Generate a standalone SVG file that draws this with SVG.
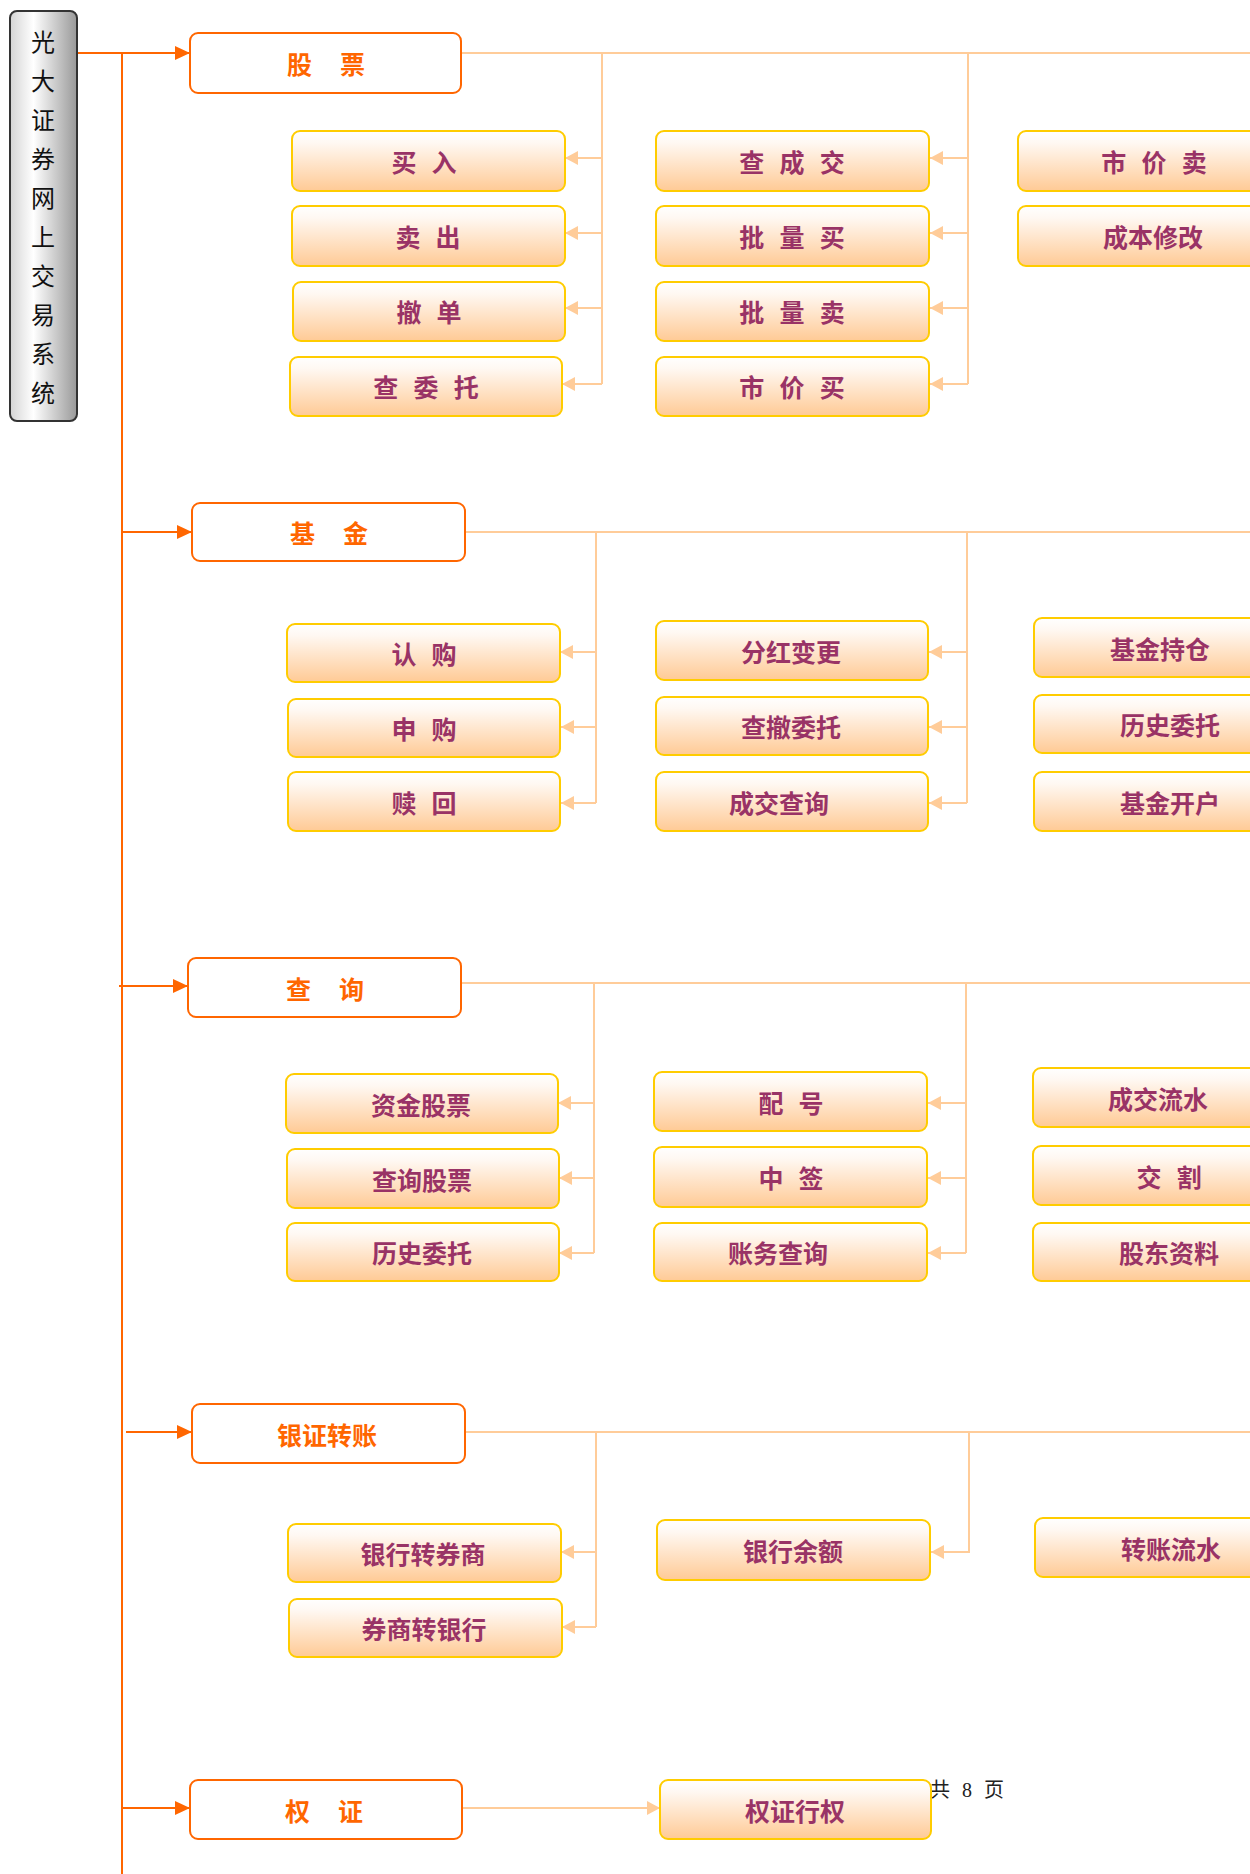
<svg xmlns="http://www.w3.org/2000/svg" width="1250" height="1874" viewBox="0 0 1250 1874">
<defs>
  <linearGradient id="gChild" x1="0" y1="0" x2="0" y2="1">
    <stop offset="0" stop-color="#FFFFFF"/>
    <stop offset="0.2" stop-color="#FFF8F2"/>
    <stop offset="1" stop-color="#FFCA95"/>
  </linearGradient>
  <linearGradient id="gTitle" x1="0" y1="0" x2="1" y2="0">
    <stop offset="0" stop-color="#D4D4D4"/>
    <stop offset="0.35" stop-color="#FFFFFF"/>
    <stop offset="1" stop-color="#999999"/>
  </linearGradient>
  <marker id="arrMain" markerUnits="userSpaceOnUse" viewBox="0 0 15 14" markerWidth="15" markerHeight="14" refX="15" refY="7" orient="auto">
    <path d="M0,0 L15,7 L0,14 z" fill="#FF6600"/>
  </marker>
  <marker id="arrSub" markerUnits="userSpaceOnUse" viewBox="0 0 13 14" markerWidth="13" markerHeight="14" refX="13" refY="7" orient="auto">
    <path d="M0,0 L13,7 L0,14 z" fill="#FFCC99"/>
  </marker>
</defs>
<style>
  .title { fill: url(#gTitle); stroke: #333333; stroke-width: 2; }
  .ttext { font-family: "Noto Sans CJK SC", "Liberation Sans", sans-serif; font-size: 24px; fill: #111111; text-anchor: middle; }
  .parent { fill: #FFFFFF; stroke: #FF6600; stroke-width: 2; }
  .ptext { font-family: "Noto Sans CJK SC", "Liberation Sans", sans-serif; font-size: 25px; font-weight: bold; fill: #FF6600; text-anchor: middle; }
  .child { fill: url(#gChild); stroke: #FFCC00; stroke-width: 2; }
  .ctext { font-family: "Noto Sans CJK SC", "Liberation Sans", sans-serif; font-size: 25px; font-weight: bold; fill: #993366; text-anchor: middle; }
  .sp2 { word-spacing: 22.5px; }
  .sp1 { word-spacing: 9.5px; }
  .main { fill: none; stroke: #FF6600; stroke-width: 2; }
  .sub { fill: none; stroke: #FFCC99; stroke-width: 2; }
  .footer { font-family: "Liberation Serif", "Noto Sans CJK SC", serif; font-size: 20px; fill: #222222; word-spacing: 7px; }
</style>
<rect width="1250" height="1874" fill="#FFFFFF"/>

<text class="footer" x="930" y="1797">共 8 页</text>

<g id="connectors">
  <path class="main" d="M122,53 V1874"/>
  <path class="main" d="M77,53 H190" marker-end="url(#arrMain)"/>
  <path class="main" d="M122,532 H192" marker-end="url(#arrMain)"/>
  <path class="main" d="M119,986 H188" marker-end="url(#arrMain)"/>
  <path class="main" d="M126,1432 H192" marker-end="url(#arrMain)"/>
  <path class="main" d="M122,1808 H190" marker-end="url(#arrMain)"/>

  <path class="sub" d="M461,53 H1250"/>
  <path class="sub" d="M602,53 V384"/>
  <path class="sub" d="M602,158 H565" marker-end="url(#arrSub)"/>
  <path class="sub" d="M602,233 H565" marker-end="url(#arrSub)"/>
  <path class="sub" d="M602,308 H565" marker-end="url(#arrSub)"/>
  <path class="sub" d="M602,384 H562" marker-end="url(#arrSub)"/>
  <path class="sub" d="M968,53 V384"/>
  <path class="sub" d="M968,158 H930" marker-end="url(#arrSub)"/>
  <path class="sub" d="M968,233 H930" marker-end="url(#arrSub)"/>
  <path class="sub" d="M968,308 H930" marker-end="url(#arrSub)"/>
  <path class="sub" d="M968,384 H930" marker-end="url(#arrSub)"/>

  <path class="sub" d="M465,532 H1250"/>
  <path class="sub" d="M596,532 V803"/>
  <path class="sub" d="M596,652 H560" marker-end="url(#arrSub)"/>
  <path class="sub" d="M596,727 H561" marker-end="url(#arrSub)"/>
  <path class="sub" d="M596,803 H561" marker-end="url(#arrSub)"/>
  <path class="sub" d="M967,532 V803"/>
  <path class="sub" d="M967,652 H929" marker-end="url(#arrSub)"/>
  <path class="sub" d="M967,727 H929" marker-end="url(#arrSub)"/>
  <path class="sub" d="M967,803 H929" marker-end="url(#arrSub)"/>

  <path class="sub" d="M461,983 H1250"/>
  <path class="sub" d="M594,983 V1253"/>
  <path class="sub" d="M594,1103 H558" marker-end="url(#arrSub)"/>
  <path class="sub" d="M594,1178 H559" marker-end="url(#arrSub)"/>
  <path class="sub" d="M594,1253 H559" marker-end="url(#arrSub)"/>
  <path class="sub" d="M966,983 V1253"/>
  <path class="sub" d="M966,1103 H928" marker-end="url(#arrSub)"/>
  <path class="sub" d="M966,1178 H928" marker-end="url(#arrSub)"/>
  <path class="sub" d="M966,1253 H928" marker-end="url(#arrSub)"/>

  <path class="sub" d="M465,1432 H1250"/>
  <path class="sub" d="M596,1432 V1627"/>
  <path class="sub" d="M596,1552 H561" marker-end="url(#arrSub)"/>
  <path class="sub" d="M596,1627 H562" marker-end="url(#arrSub)"/>
  <path class="sub" d="M969,1432 V1552 H931" marker-end="url(#arrSub)"/>

  <path class="sub" d="M462,1808 H660" stroke-width="3" marker-end="url(#arrSub)"/>
</g>

<g id="title">
  <rect class="title" x="10" y="11" width="67" height="410" rx="7"/>
  <text class="ttext">
    <tspan x="43" y="51">光</tspan><tspan x="43" y="90">大</tspan><tspan x="43" y="129">证</tspan><tspan x="43" y="168">券</tspan><tspan x="43" y="207">网</tspan><tspan x="43" y="246">上</tspan><tspan x="43" y="285">交</tspan><tspan x="43" y="324">易</tspan><tspan x="43" y="363">系</tspan><tspan x="43" y="402">统</tspan>
  </text>
</g>

<!-- Section 1: 股票 -->
<g id="gupiao"><rect class="parent" x="190" y="33" width="271" height="60" rx="8"/><text class="ptext sp2" x="326" y="74">股 票</text></g>
<g id="mairu"><rect class="child" x="292" y="131" width="273" height="60" rx="8"/><text class="ctext sp1" x="424" y="172">买 入</text></g>
<g id="maichu"><rect class="child" x="292" y="206" width="273" height="60" rx="8"/><text class="ctext sp1" x="428" y="247">卖 出</text></g>
<g id="chedan"><rect class="child" x="293" y="282" width="272" height="59" rx="8"/><text class="ctext sp1" x="429" y="322">撤 单</text></g>
<g id="chaweituo"><rect class="child" x="290" y="357" width="272" height="59" rx="8"/><text class="ctext sp1" x="426" y="397">查 委 托</text></g>
<g id="chachengjiao"><rect class="child" x="656" y="131" width="273" height="60" rx="8"/><text class="ctext sp1" x="792" y="172">查 成 交</text></g>
<g id="piliangmai"><rect class="child" x="656" y="206" width="273" height="60" rx="8"/><text class="ctext sp1" x="792" y="247">批 量 买</text></g>
<g id="piliangmai2"><rect class="child" x="656" y="282" width="273" height="59" rx="8"/><text class="ctext sp1" x="792" y="322">批 量 卖</text></g>
<g id="shijiamai"><rect class="child" x="656" y="357" width="273" height="59" rx="8"/><text class="ctext sp1" x="792" y="397">市 价 买</text></g>
<g id="shijiamai2"><rect class="child" x="1018" y="131" width="270" height="60" rx="8"/><text class="ctext sp1" x="1154" y="172">市 价 卖</text></g>
<g id="chengbenxiugai"><rect class="child" x="1018" y="206" width="270" height="60" rx="8"/><text class="ctext" x="1153" y="247">成本修改</text></g>

<!-- Section 2: 基金 -->
<g id="jijin"><rect class="parent" x="192" y="503" width="273" height="58" rx="8"/><text class="ptext sp2" x="329" y="543">基 金</text></g>
<g id="rengou"><rect class="child" x="287" y="624" width="273" height="58" rx="8"/><text class="ctext sp1" x="424" y="664">认 购</text></g>
<g id="shengou"><rect class="child" x="288" y="699" width="272" height="58" rx="8"/><text class="ctext sp1" x="424" y="739">申 购</text></g>
<g id="shuhui"><rect class="child" x="288" y="772" width="272" height="59" rx="8"/><text class="ctext sp1" x="424" y="813">赎 回</text></g>
<g id="fenhong"><rect class="child" x="656" y="621" width="272" height="59" rx="8"/><text class="ctext" x="791" y="662">分红变更</text></g>
<g id="chacheweituo"><rect class="child" x="656" y="697" width="272" height="58" rx="8"/><text class="ctext" x="791" y="737">查撤委托</text></g>
<g id="chengjiaochaxun"><rect class="child" x="656" y="772" width="272" height="59" rx="8"/><text class="ctext" x="779" y="813">成交查询</text></g>
<g id="jijinchicang"><rect class="child" x="1034" y="618" width="260" height="59" rx="8"/><text class="ctext" x="1160" y="659">基金持仓</text></g>
<g id="lishiweituo1"><rect class="child" x="1034" y="695" width="260" height="58" rx="8"/><text class="ctext" x="1170" y="735">历史委托</text></g>
<g id="jijinkaihu"><rect class="child" x="1034" y="772" width="260" height="59" rx="8"/><text class="ctext" x="1170" y="813">基金开户</text></g>

<!-- Section 3: 查询 -->
<g id="chaxun"><rect class="parent" x="188" y="958" width="273" height="59" rx="8"/><text class="ptext sp2" x="325" y="999">查 询</text></g>
<g id="zijingupiao"><rect class="child" x="286" y="1074" width="272" height="59" rx="8"/><text class="ctext" x="421" y="1115">资金股票</text></g>
<g id="chaxungupiao"><rect class="child" x="287" y="1149" width="272" height="59" rx="8"/><text class="ctext" x="422" y="1190">查询股票</text></g>
<g id="lishiweituo2"><rect class="child" x="287" y="1223" width="272" height="58" rx="8"/><text class="ctext" x="422" y="1263">历史委托</text></g>
<g id="peihao"><rect class="child" x="654" y="1072" width="273" height="59" rx="8"/><text class="ctext sp1" x="791" y="1113">配 号</text></g>
<g id="zhongqian"><rect class="child" x="654" y="1147" width="273" height="60" rx="8"/><text class="ctext sp1" x="791" y="1188">中 签</text></g>
<g id="zhangwu"><rect class="child" x="654" y="1223" width="273" height="58" rx="8"/><text class="ctext" x="778" y="1263">账务查询</text></g>
<g id="chengjiaoliushui"><rect class="child" x="1033" y="1068" width="260" height="59" rx="8"/><text class="ctext" x="1158" y="1109">成交流水</text></g>
<g id="jiaoge"><rect class="child" x="1033" y="1146" width="260" height="59" rx="8"/><text class="ctext sp1" x="1169" y="1187">交 割</text></g>
<g id="gudongziliao"><rect class="child" x="1033" y="1223" width="260" height="58" rx="8"/><text class="ctext" x="1169" y="1263">股东资料</text></g>

<!-- Section 4: 银证转账 -->
<g id="yinzheng"><rect class="parent" x="192" y="1404" width="273" height="59" rx="8"/><text class="ptext" x="327" y="1445">银证转账</text></g>
<g id="yinhangzhuan"><rect class="child" x="288" y="1524" width="273" height="58" rx="8"/><text class="ctext" x="423" y="1564">银行转券商</text></g>
<g id="quanshangzhuan"><rect class="child" x="289" y="1599" width="273" height="58" rx="8"/><text class="ctext" x="424" y="1639">券商转银行</text></g>
<g id="yinhangyue"><rect class="child" x="657" y="1520" width="273" height="60" rx="8"/><text class="ctext" x="793" y="1561">银行余额</text></g>
<g id="zhuanzhangliushui"><rect class="child" x="1035" y="1518" width="260" height="59" rx="8"/><text class="ctext" x="1171" y="1559">转账流水</text></g>

<!-- Section 5: 权证 -->
<g id="quanzheng"><rect class="parent" x="190" y="1780" width="272" height="59" rx="8"/><text class="ptext sp2" x="324" y="1821">权 证</text></g>
<g id="quanzhengxingquan"><rect class="child" x="660" y="1780" width="271" height="59" rx="8"/><text class="ctext" x="795" y="1821">权证行权</text></g>
</svg>
